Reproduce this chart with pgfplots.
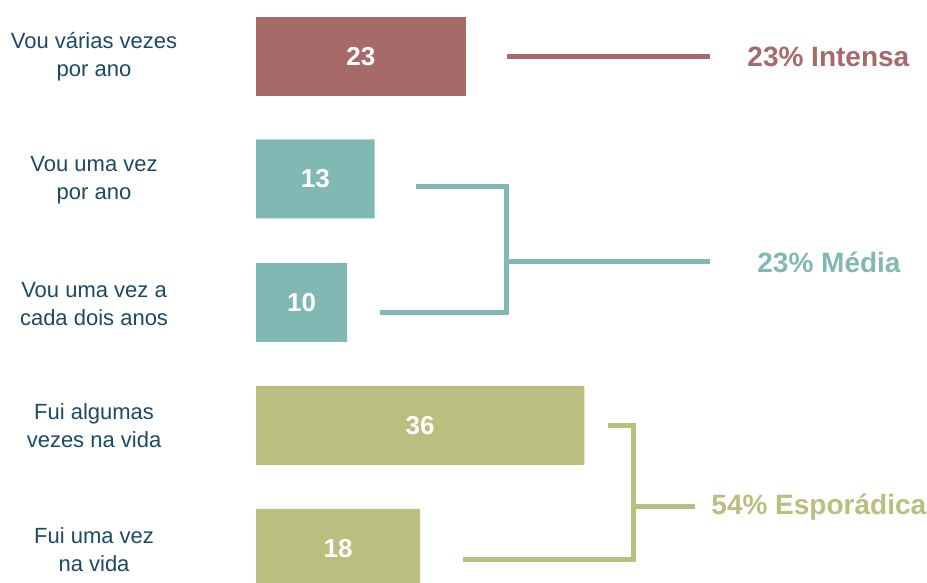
\documentclass[border=0pt]{standalone}
\usepackage{pgfplots}
\pgfplotsset{compat=1.18}
\usepackage{fontspec}
\setmainfont{Liberation Sans}
\definecolor{cInt}{HTML}{A66B69}
\definecolor{cMed}{HTML}{80B9B3}
\definecolor{cEsp}{HTML}{BABE7E}
\definecolor{cTxt}{HTML}{1B4966}
\tikzset{
  catlab/.style={align=center, text=cTxt, font=\fontsize{11}{14}\selectfont, inner sep=0pt},
  grplab/.style={anchor=west, inner sep=0pt, font=\fontsize{14}{16}\selectfont\bfseries},
}
\pgfplotsset{
  mybar/.style={xbar, bar width=79, bar shift=0, draw=none},
  conn/.style={sharp plot, no marks, line width=2.5pt, line join=miter, line cap=butt},
}
\begin{document}
\begin{tikzpicture}
\path[use as bounding box] (0,0) rectangle (463.5pt,291.5pt);
\begin{axis}[
  at={(0,0)}, anchor=south west,
  scale only axis, width=463.5pt, height=291.5pt,
  xmin=-28.07, xmax=73.57, ymin=-583, ymax=0,
  hide axis,
]
% bars
\addplot[mybar, fill=cInt] coordinates {(23,-56.5)};
\addplot[mybar, fill=cMed] coordinates {(13,-179) (10,-302.5)};
\addplot[mybar, fill=cEsp] coordinates {(36,-425.5) (18,-548.5)};
% value labels
\addplot[sharp plot, draw=none, no marks, nodes near coords, point meta=explicit symbolic,
  every node near coord/.style={anchor=center, text=white, font=\fontsize{13}{15}\selectfont\bfseries}]
  coordinates {(11.5,-56.5)[23] (6.5,-179)[13] (5,-302.5)[10] (18,-425.5)[36] (9,-548.5)[18]};
% connectors
\addplot[conn, draw=cInt] coordinates {(27.52,-57) (49.78,-57)};
\addplot[conn, draw=cMed] coordinates {(17.54,-186.5) (27.41,-186.5) (27.41,-313) (13.60,-313)};
\addplot[conn, draw=cMed] coordinates {(27.41,-262) (49.78,-262)};
\addplot[conn, draw=cEsp] coordinates {(38.60,-426) (41.34,-426) (41.34,-560) (22.70,-560)};
\addplot[conn, draw=cEsp] coordinates {(41.34,-506.5) (48.14,-506.5)};
% category labels
\node[catlab] at (-17.76,-57) {Vou várias vezes\\por ano};
\node[catlab] at (-17.76,-180) {Vou uma vez\\por ano};
\node[catlab] at (-17.76,-304) {Vou uma vez a\\cada dois anos};
\node[catlab] at (-17.76,-426) {Fui algumas\\vezes na vida};
\node[catlab] at (-17.76,-550) {Fui uma vez\\na vida};
% group labels
\node[grplab, text=cInt] at (53.84,-57) {23\% Intensa};
\node[grplab, text=cMed] at (54.93,-262) {23\% Média};
\node[grplab, text=cEsp] at (49.89,-507) {54\% Esporádica};
\end{axis}
\end{tikzpicture}
\end{document}
